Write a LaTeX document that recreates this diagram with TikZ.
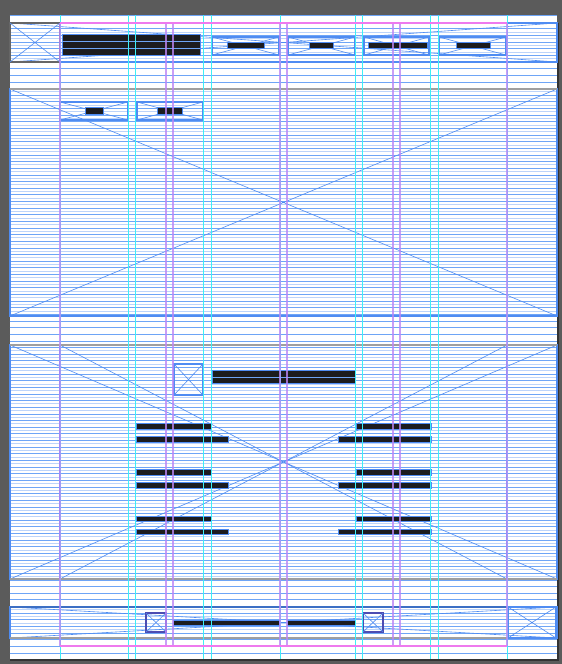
\documentclass[tikz,border=0pt]{standalone}
\usepackage{xcolor}
\usepackage{tikz}

\definecolor{framegray}{HTML}{5B5B5B}
\definecolor{wireblue}{HTML}{4F8CF2}
\definecolor{deepblue}{HTML}{3C6FC4}
\definecolor{ruleblue}{HTML}{6EA5F6}
\definecolor{paleblue}{HTML}{BCD4FA}
\definecolor{guidecyan}{HTML}{3DEFF7}
\definecolor{guidepurple}{HTML}{BC86F5}
\definecolor{marginpink}{HTML}{EE7AEE}
\definecolor{inkbar}{HTML}{1C1C1F}

\begin{document}
\begin{tikzpicture}[x=1pt, y=-1pt,
    wirebox/.style={draw=wireblue, line width=1.3pt},
    xline/.style={wireblue, line width=0.6pt},
    barfill/.style={fill=inkbar, draw=wireblue, line width=0.4pt},
    gridrule/.style={ruleblue, line width=0.7pt},
    gridpale/.style={paleblue, line width=0.9pt},
    cyanguide/.style={guidecyan, line width=1pt},
    purpleguide/.style={guidepurple, line width=1.6pt, opacity=0.8},
    shadeedge/.style={gray!75, line width=1.6pt}]
    \useasboundingbox (0,0) rectangle (562,664);

    % Frame
    \fill[framegray] (0,0) rectangle (562,664);
    \fill[white] (9.5,15) rectangle (557,659);
    \draw[black!80, line width=2pt] (558,23) -- (558,660) -- (10,660);

    % Baseline grid
    \foreach \ka/\kb in {2/6, 11/44, 50/84, 89/92}
        \foreach \k in {\ka,...,\kb}
            \draw[gridpale] (10,18.8+6.64*\k) -- (557,18.8+6.64*\k);
    \foreach \k in {0,...,96}
        \draw[gridrule] (9.5,15.5+6.64*\k) -- (557,15.5+6.64*\k);

    % Header
    \draw[wirebox] (10,23) rectangle (557,62);
    \draw[xline] (10,23) -- (557,62) (10,62) -- (557,23);
    \draw[wirebox, draw=black!60] (10,23) rectangle (60,62);
    \draw[xline] (10,23) -- (60,62) (10,62) -- (60,23);
    \draw[barfill] (62,34) rectangle (200,55);
    \draw[gridrule] (62,41) -- (200,41) (62,48) -- (200,48);
    \foreach \xa/\xb/\ba/\bb in {212/279/227/264, 288/355/309/333, 364/429/368/427, 439/506/456/490} {
        \draw[wirebox] (\xa,37) rectangle (\xb,55);
        \draw[xline] (\xa,37) -- (\xb,55) (\xa,55) -- (\xb,37);
        \draw[barfill] (\ba,42) rectangle (\bb,48);
    }

    % Hero image
    \draw[wirebox] (10,89) rectangle (557,316);
    \draw[xline] (10,89) -- (557,316) (10,316) -- (557,89);
    \draw[shadeedge] (10,89) -- (557,89);
    \foreach \xa/\xb/\ba/\bb in {60/128/85/103, 137/203/157/182} {
        \draw[wirebox] (\xa,102) rectangle (\xb,120);
        \draw[xline] (\xa,102) -- (\xb,120) (\xa,120) -- (\xb,102);
        \draw[barfill] (\ba,107.5) rectangle (\bb,114);
    }

    % Content block
    \draw[wirebox] (10,345) rectangle (557,579);
    \draw[xline] (10,345) -- (557,579) (10,579) -- (557,345);
    \draw[wirebox] (60,345) rectangle (507,579);
    \draw[xline] (60,345) -- (507,579) (60,579) -- (507,345);
    \draw[shadeedge] (10,345) -- (557,345) (10,579) -- (557,579);
    \draw[wirebox] (174,364) rectangle (203,395);
    \draw[xline] (174,364) -- (203,395) (174,395) -- (203,364);
    \draw[barfill] (212,370) rectangle (355,383);
    \draw[gridrule] (212,377) -- (355,377);
    \foreach \y in {423.5, 469, 515.7} {
        \draw[barfill] (136,\y) rectangle (211,\y+5.7);
        \draw[barfill] (136,\y+13) rectangle (228,\y+18.7);
        \draw[barfill] (356,\y) rectangle (431,\y+5.7);
        \draw[barfill] (338,\y+13) rectangle (431,\y+18.7);
    }

    % Footer
    \draw[wirebox] (10,607) rectangle (557,638);
    \draw[xline] (10,607) -- (557,638) (10,638) -- (557,607);
    \draw[shadeedge] (10,638) -- (557,638);
    \draw[wirebox, draw=deepblue] (10,607) -- (557,607);
    \foreach \xa/\xb in {146/166, 363/383} {
        \draw[wirebox, draw=blue!40!gray] (\xa,613) rectangle (\xb,632);
        \draw[xline] (\xa,613) -- (\xb,632) (\xa,632) -- (\xb,613);
    }
    \draw[barfill] (173,620) rectangle (279,625);
    \draw[barfill] (287,620) rectangle (355,625);
    \draw[wirebox] (508,607) rectangle (556,638);
    \draw[xline] (508,607) -- (556,638) (508,638) -- (556,607);

    % Column guides
    \foreach \x in {60, 128, 135, 203, 211, 280, 355, 362, 430, 438, 507}
        \draw[cyanguide] (\x,15) -- (\x,659);
    \foreach \x in {60, 166, 173, 280, 287, 393, 400, 507}
        \draw[purpleguide] (\x,23) -- (\x,646);
    \draw[marginpink, line width=1.4pt] (60,23) -- (507,23) (60,646) -- (507,646);
\end{tikzpicture}
\end{document}
